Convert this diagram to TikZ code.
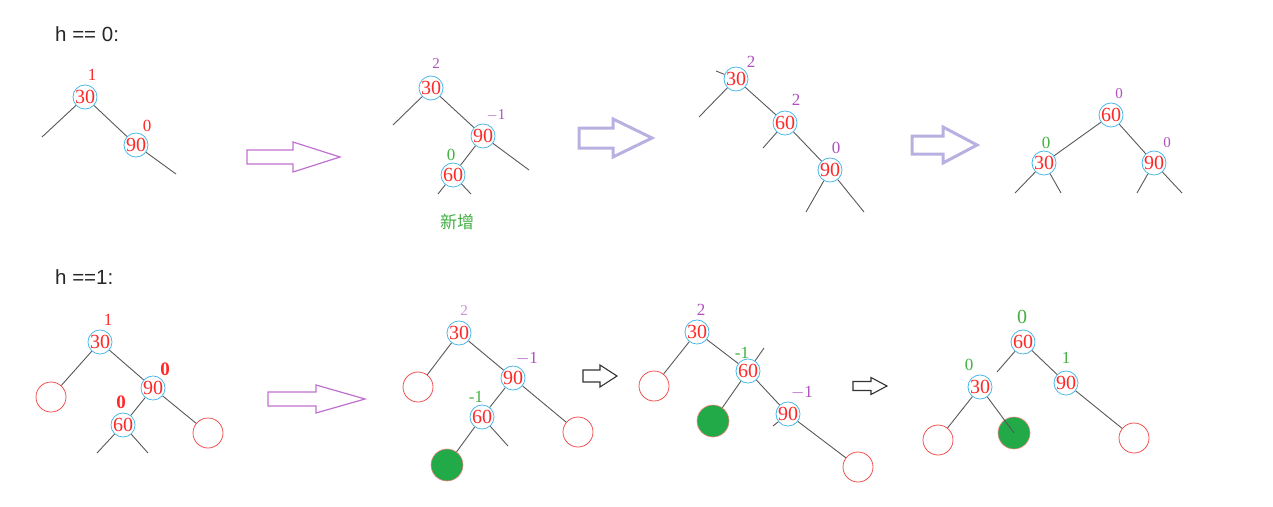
\documentclass[tikz,border=0pt]{standalone}
\usepackage{fontspec}
\setmainfont{Liberation Serif}
\setsansfont{Liberation Sans}
\newfontfamily\cjk{Noto Sans CJK SC}
\definecolor{nred}{HTML}{FF2828}
\definecolor{ncyan}{HTML}{48B8E8}
\definecolor{npurple}{HTML}{B050C0}
\definecolor{lpurple}{HTML}{C890D8}
\definecolor{ngreen}{HTML}{40B040}
\definecolor{egray}{HTML}{585858}
\definecolor{lred}{HTML}{F05050}
\definecolor{fgreen}{HTML}{22AA48}
\definecolor{arrpurple}{HTML}{C070D0}
\definecolor{arrlav}{HTML}{B8B0E0}
\newcommand\hollowarrow[7]{%
  \draw[#1] (#2,#5-#6) -- (#3,#5-#6) -- (#3,#5-#7) -- (#4,#5) -- (#3,#5+#7) -- (#3,#5+#6) -- (#2,#5+#6) -- cycle;}
\begin{document}
\begin{tikzpicture}[x=1pt,y=-1pt,
  bn/.style={circle, draw=ncyan, line width=0.8pt, minimum size=24pt, inner sep=0pt, text=nred, font=\fontsize{20}{20}\selectfont},
  lbl/.style={inner sep=0pt, font=\fontsize{17}{17}\selectfont},
  slbl/.style={inner sep=0pt, font=\fontsize{15}{15}\selectfont},
  blbl/.style={inner sep=0pt, font=\fontsize{19}{19}\selectfont\bfseries},
  edge/.style={draw=egray, line width=0.9pt},
  leaf/.style={circle, draw=lred, line width=0.8pt, minimum size=30pt, inner sep=0pt},
  newleaf/.style={circle, fill=fgreen, draw=lred!70, line width=0.6pt, minimum size=32pt, inner sep=0pt},
  title/.style={inner sep=0pt, anchor=west, font=\sffamily\fontsize{20.5}{20.5}\selectfont, text=black!85},
  arrA/.style={draw=arrpurple, line width=1.2pt},
  arrB/.style={draw=arrlav, line width=3pt},
  arrC/.style={draw=black!80, line width=1.1pt}
]
\useasboundingbox (0,0) rectangle (1273,506);

% ---------- titles ----------
\node[title] (t0) at (55,34) {h == 0:};
\node[title] (t1) at (55,277) {h ==1:};

% ---------- top panel 1 ----------
\node[bn] (a30) at (85,97) {30};
\node[lbl,text=nred] (a30b) at (92,75) {1};
\node[bn] (a90) at (136,145) {90};
\node[lbl,text=nred] (a90b) at (147,126) {0};
\coordinate (a30l) at (42,137);
\coordinate (a90r) at (176,174);
\draw[edge] (a30) -- (a30l);
\draw[edge] (a30) -- (a90);
\draw[edge] (a90) -- (a90r);
\hollowarrow{arrA}{247}{293}{340}{157}{7}{15}

% ---------- top panel 2 ----------
\node[bn] (b30) at (431,88) {30};
\node[slbl,text=npurple] (b30b) at (436,64) {2};
\node[bn] (b90) at (483,136) {90};
\node[slbl,text=npurple] (b90b) at (496,115) {$-$1};
\node[bn] (b60) at (453,175) {60};
\node[lbl,text=ngreen] (b60b) at (451,155) {0};
\coordinate (b30l) at (393,125);
\coordinate (b90r) at (529,170);
\coordinate (b60l) at (438,194);
\coordinate (b60r) at (471,194);
\draw[edge] (b30) -- (b30l);
\draw[edge] (b30) -- (b90);
\draw[edge] (b90) -- (b60);
\draw[edge] (b90) -- (b90r);
\draw[edge] (b60) -- (b60l);
\draw[edge] (b60) -- (b60r);
\node[inner sep=0pt, text=ngreen, font=\cjk\fontsize{17}{17}\selectfont] (bnew) at (457,222) {新增};
\hollowarrow{arrB}{579}{613}{652}{138}{10}{19}

% ---------- top panel 3 ----------
\node[bn] (c30) at (736,79) {30};
\node[lbl,text=npurple] (c30b) at (751,62) {2};
\node[bn] (c60) at (785,123) {60};
\node[lbl,text=npurple] (c60b) at (796,100) {2};
\node[bn] (c90) at (830,170) {90};
\node[lbl,text=npurple] (c90b) at (836,148) {0};
\coordinate (c30p) at (716,71);
\coordinate (c30l) at (699,117);
\coordinate (c60l) at (763,148);
\coordinate (c90l) at (806,212);
\coordinate (c90r) at (864,212);
\draw[edge] (c30) -- (c30p);
\draw[edge] (c30) -- (c30l);
\draw[edge] (c30) -- (c60);
\draw[edge] (c60) -- (c60l);
\draw[edge] (c60) -- (c90);
\draw[edge] (c90) -- (c90l);
\draw[edge] (c90) -- (c90r);
\hollowarrow{arrB}{912}{943}{977}{145}{9}{18}

% ---------- top panel 4 ----------
\node[bn] (d60) at (1111,115) {60};
\node[slbl,text=npurple] (d60b) at (1119,94) {0};
\node[bn] (d30) at (1044,163) {30};
\node[lbl,text=ngreen] (d30b) at (1046,143) {0};
\node[bn] (d90) at (1154,163) {90};
\node[slbl,text=npurple] (d90b) at (1167,143) {0};
\coordinate (d30l) at (1015,193);
\coordinate (d30r) at (1061,193);
\coordinate (d90l) at (1137,193);
\coordinate (d90r) at (1182,193);
\draw[edge] (d60) -- (d30);
\draw[edge] (d60) -- (d90);
\draw[edge] (d30) -- (d30l);
\draw[edge] (d30) -- (d30r);
\draw[edge] (d90) -- (d90l);
\draw[edge] (d90) -- (d90r);

% ---------- bottom panel 1 ----------
\node[bn] (e30) at (100,342) {30};
\node[lbl,text=nred] (e30b) at (108,320) {1};
\node[leaf] (eL) at (51,397) {};
\node[bn] (e90) at (153,388) {90};
\node[blbl,text=nred] (e90b) at (165,369) {0};
\node[bn] (e60) at (123,425) {60};
\node[blbl,text=nred] (e60b) at (121,402) {0};
\node[leaf] (eR) at (208,433) {};
\coordinate (e60l) at (97,453);
\coordinate (e60r) at (148,453);
\draw[edge] (e30) -- (eL);
\draw[edge] (e30) -- (e90);
\draw[edge] (e90) -- (e60);
\draw[edge] (e90) -- (eR);
\draw[edge] (e60) -- (e60l);
\draw[edge] (e60) -- (e60r);
\hollowarrow{arrA}{268}{316}{365}{399}{7}{14}

% ---------- bottom panel 2 ----------
\node[bn] (f30) at (459,333) {30};
\node[slbl,text=lpurple] (f30b) at (464,311) {2};
\node[leaf] (fL) at (418,387) {};
\node[bn] (f90) at (513,378) {90};
\node[lbl,text=npurple] (f90b) at (527,359) {$-$1};
\node[bn] (f60) at (482,417) {60};
\node[lbl,text=ngreen] (f60b) at (476,397) {-1};
\node[leaf] (fR) at (578,432) {};
\node[newleaf] (fN) at (447,465) {};
\coordinate (f60r) at (508,446);
\draw[edge] (f30) -- (fL);
\draw[edge] (f30) -- (f90);
\draw[edge] (f90) -- (f60);
\draw[edge] (f90) -- (fR);
\draw[edge] (f60) -- (fN);
\draw[edge] (f60) -- (f60r);
\hollowarrow{arrC}{583}{600}{617}{376}{6}{11}

% ---------- bottom panel 3 ----------
\node[bn] (g30) at (697,332) {30};
\node[lbl,text=npurple] (g30b) at (701,310) {2};
\node[leaf] (gL) at (654,386) {};
\node[bn] (g60) at (748,371) {60};
\node[lbl,text=ngreen] (g60b) at (742,353) {-1};
\node[newleaf] (gN) at (713,421) {};
\node[bn] (g90) at (788,414) {90};
\node[lbl,text=npurple] (g90b) at (802,393) {$-$1};
\node[leaf] (gR) at (858,467) {};
\coordinate (g60s) at (764,348);
\coordinate (g90l) at (773,426);
\draw[edge] (g30) -- (gL);
\draw[edge] (g30) -- (g60);
\draw[edge] (g60) -- (g60s);
\draw[edge] (g60) -- (gN);
\draw[edge] (g60) -- (g90);
\draw[edge] (g90) -- (g90l);
\draw[edge] (g90) -- (gR);
\hollowarrow{arrC}{853}{871}{887}{386}{4.5}{8.5}

% ---------- bottom panel 4 ----------
\node[bn] (h60) at (1023,342) {60};
\node[blbl,text=ngreen,font=\fontsize{20}{20}\selectfont] (h60b) at (1022,317) {0};
\node[bn] (h30) at (980,387) {30};
\node[lbl,text=ngreen] (h30b) at (969,365) {0};
\node[bn] (h90) at (1066,383) {90};
\node[lbl,text=ngreen] (h90b) at (1066,358) {1};
\node[leaf] (hL) at (938,440) {};
\node[newleaf] (hN) at (1014,433) {};
\node[leaf] (hR) at (1134,438) {};
\coordinate (h60s) at (997,372);
\draw[edge] (h60) -- (h60s);
\draw[edge] (h60) -- (h90);
\draw[edge] (h30) -- (hL);
\draw[edge] (h30) -- (hN.center);
\draw[edge] (h90) -- (hR);
\end{tikzpicture}
\end{document}
